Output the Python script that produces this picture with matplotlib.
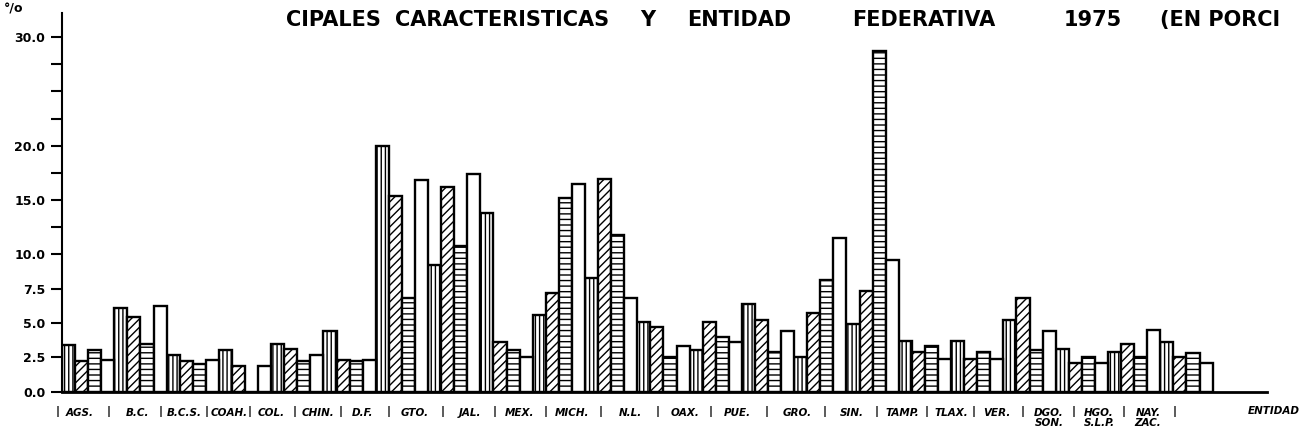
import numpy as np
import matplotlib
matplotlib.use("Agg")
import matplotlib.pyplot as plt

# --- data (percent) ---
states = ["AGS.", "B.C.", "B.C.S.", "COAH.", "COL.", "CHIN.", "D.F.", "GTO.",
          "JAL.", "MEX.", "MICH.", "N.L.", "OAX.", "PUE.", "GRO.", "SIN.",
          "TAMP.", "TLAX.", "VER.", "DGO.\nSON.", "HGO.\nS.L.P.", "NAY.\nZAC."]
serie_a = [3.4, 6.1, 2.7, 3.0, 3.5, 4.4, 20.0, 9.2, 13.8, 5.6, 8.3,
           5.1, 3.0, 6.4, 2.5, 4.9, 3.7, 3.7, 5.2, 3.1, 2.9, 3.6]
serie_b = [2.2, 5.4, 2.2, 1.9, 3.1, 2.3, 15.4, 16.2, 3.6, 7.2, 16.9,
           4.7, 5.1, 5.2, 5.7, 7.3, 2.9, 2.4, 6.8, 2.1, 3.5, 2.5]
serie_c = [3.0, 3.5, 2.0, 0.0, 2.2, 2.2, 6.8, 10.8, 3.0, 15.2, 11.8,
           2.5, 4.0, 2.9, 8.1, 28.7, 3.3, 2.9, 3.0, 2.5, 2.5, 2.8]
serie_d = [2.3, 6.2, 2.3, 1.9, 2.7, 2.3, 16.8, 17.4, 2.5, 16.5, 6.8,
           3.3, 3.6, 4.4, 11.5, 9.6, 2.4, 2.4, 4.4, 2.1, 4.5, 2.1]
ytick_vals = [0, 2.5, 5, 7.5, 10, 15, 20, 30]
ytick_minor = [12.5, 17.5, 22.5, 25, 27.5]

# label centres as lettered on the original (pixels from left edge)
label_px = [80, 138, 184, 229, 271, 318, 363, 415, 470, 520, 572, 630,
            685, 737, 797, 852, 902, 951, 997, 1049, 1099, 1148]

W, H = 1308, 440
GROUP_PX = 52.3
AX_LEFT, AX_RIGHT = 62, 1267
AX_BOTTOM, AX_TOP = 391.7, 13


# axis is stretched below 10 % and compressed above
def fwd(v):
    v = np.asarray(v, dtype=float)
    return np.where(v <= 10, v, 10 + (v - 10) * 0.789)


def inv(u):
    u = np.asarray(u, dtype=float)
    return np.where(u <= 10, u, 10 + (u - 10) / 0.789)


plt.rcParams["hatch.linewidth"] = 1.0
fig = plt.figure(figsize=(W / 100, H / 100), dpi=100)
ax = fig.add_axes([AX_LEFT / W, (H - AX_BOTTOM) / H,
                   (AX_RIGHT - AX_LEFT) / W, (AX_BOTTOM - AX_TOP) / H])
ax.set_yscale("function", functions=(fwd, inv))

x = np.arange(len(states))
series = [(serie_a, "||||"), (serie_b, "////"), (serie_c, "---"), (serie_d, "")]
for j, (vals, hatch) in enumerate(series):
    ax.bar(x + 0.125 + 0.25 * j, vals, width=0.25, facecolor="white",
           edgecolor="black", hatch=hatch, linewidth=1.7, zorder=2)

ax.set_xlim(0, (AX_RIGHT - AX_LEFT) / GROUP_PX)
ax.set_ylim(0, 32.23)

ax.set_yticks(ytick_vals)
ax.set_yticklabels([f"{v:.1f}" for v in ytick_vals],
                   fontsize=9, fontweight="bold")
ax.set_yticks(ytick_minor, minor=True)
ax.tick_params(axis="y", which="both", length=8, width=1.5, pad=4)

lab_x = [(p - AX_LEFT) / GROUP_PX for p in label_px]
ax.set_xticks(lab_x)
ax.set_xticklabels(states, fontsize=7.5, fontweight="bold", style="italic",
                   linespacing=1.0)
ax.tick_params(axis="x", length=0, pad=12)

# separators between the state names
seps = [label_px[0] - 22] + [(a + b) / 2 for a, b in zip(label_px[:-1], label_px[1:])] + [label_px[-1] + 27]
for s in seps:
    ax.text((s - AX_LEFT) / GROUP_PX, -0.038, "|", transform=ax.get_xaxis_transform(),
            ha="center", va="top", fontsize=8, fontweight="bold")
ax.text((1274 - AX_LEFT) / GROUP_PX, -0.038, "ENTIDAD", transform=ax.get_xaxis_transform(),
        ha="center", va="top", fontsize=7.5, fontweight="bold", style="italic",
        clip_on=False)

for side in ("top", "right"):
    ax.spines[side].set_visible(False)
ax.spines["left"].set_linewidth(1.5)
ax.spines["bottom"].set_linewidth(2)

fig.text(4 / W, 1 - 13 / H, "°/o", fontsize=9, fontweight="bold")

title_words = [("CIPALES", 286), ("CARACTERISTICAS", 395), ("Y", 640),
               ("ENTIDAD", 687), ("FEDERATIVA", 852), ("1975", 1064),
               ("(EN PORCI", 1160)]
for word, px in title_words:
    fig.text(px / W, 1 - 26 / H, word, fontsize=15, fontweight="bold",
             va="baseline")

fig.savefig("out.png", dpi=100)
